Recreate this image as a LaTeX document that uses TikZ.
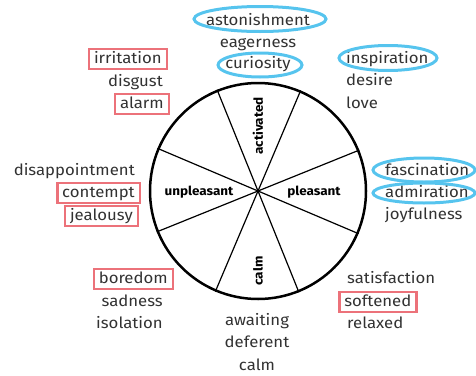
\documentclass[tikz,border=0pt]{standalone}
\usepackage{fontspec}
\setmainfont{Fira Sans}[FakeStretch=1.08]
\usetikzlibrary{positioning}
\definecolor{boxred}{RGB}{236,114,122}
\definecolor{haloblue}{RGB}{86,196,238}
\definecolor{wordgray}{RGB}{50,50,50}

\begin{document}
\begin{tikzpicture}[
    x=1pt, y=-1pt,
    word/.style={
        text=wordgray,
        font=\fontsize{15.5}{17}\selectfont,
        inner sep=0pt,
        text height=11pt,
        text depth=3pt
    },
    boxed/.style={
        word,
        draw=boxred,
        line width=2.5pt,
        inner xsep=5pt,
        inner ysep=3pt
    },
    halo/.style={draw=haloblue, line width=3pt},
    axislabel/.style={font=\bfseries\fontsize{12.5}{14}\selectfont, inner sep=0pt},
    spoke/.style={line width=1.2pt}
]
\useasboundingbox (0,0) rectangle (476,375);

\node[circle, draw, line width=2.5pt, minimum size=216pt, inner sep=0pt] (wheel) at (258,191) {};
\foreach \a/\b in {22.5/202.5, 67.5/247.5, 112.5/292.5, 157.5/337.5}
    \draw[spoke] (wheel.\a) -- (wheel.\b);
\fill (wheel.center) circle (1.8pt);

\node[axislabel, rotate=90] (activated) at (258,126) {activated};
\node[axislabel, rotate=90] (calmaxis) at (258,271) {calm};
\node[axislabel] (unpleasant) at (199,192) {unpleasant};
\node[axislabel] (pleasant) at (314,192) {pleasant};

% top
\node[word, anchor=base] (astonishment) at (258,25) {astonishment};
\node[word, anchor=base] (eagerness) at (258,47) {eagerness};
\node[word, anchor=base] (curiosity) at (258,68) {curiosity};
\draw[halo] (260,19) ellipse [x radius=66, y radius=12.5];
\draw[halo] (260,65) ellipse [x radius=42, y radius=12];

% top right
\node[word, anchor=base west] (inspiration) at (346,63) {inspiration};
\node[word, anchor=base west] (desire) at (346,85) {desire};
\node[word, anchor=base west] (love) at (346,108) {love};
\draw[halo] (388,58) ellipse [x radius=49, y radius=12.5];

% top left
\node[boxed, anchor=base east] (irritation) at (168,63) {irritation};
\node[word, anchor=base east] (disgust) at (163,86) {disgust};
\node[boxed, anchor=base east] (alarm) at (170,108) {alarm};

% left
\node[word, anchor=base east] (disappointment) at (135,175) {disappointment};
\node[boxed, anchor=base east] (contempt) at (141,197) {contempt};
\node[boxed, anchor=base east] (jealousy) at (139,220) {jealousy};

% right
\node[word, anchor=base west] (fascination) at (385,175) {fascination};
\node[word, anchor=base west] (admiration) at (385,197) {admiration};
\node[word, anchor=base west] (joyfulness) at (385,219) {joyfulness};
\draw[halo] (424,170) ellipse [x radius=51, y radius=12];
\draw[halo] (424,193) ellipse [x radius=51, y radius=10];

% bottom left
\node[boxed, anchor=base east] (boredom) at (174,283) {boredom};
\node[word, anchor=base east] (sadness) at (163,306) {sadness};
\node[word, anchor=base east] (isolation) at (163,328) {isolation};

% bottom right
\node[word, anchor=base west] (satisfaction) at (347,283) {satisfaction};
\node[boxed, anchor=base west] (softened) at (338,306) {softened};
\node[word, anchor=base west] (relaxed) at (347,328) {relaxed};

% bottom
\node[word, anchor=base] (awaiting) at (257,325) {awaiting};
\node[word, anchor=base] (deferent) at (257,347) {deferent};
\node[word, anchor=base] (calm) at (257,370) {calm};

\end{tikzpicture}
\end{document}
